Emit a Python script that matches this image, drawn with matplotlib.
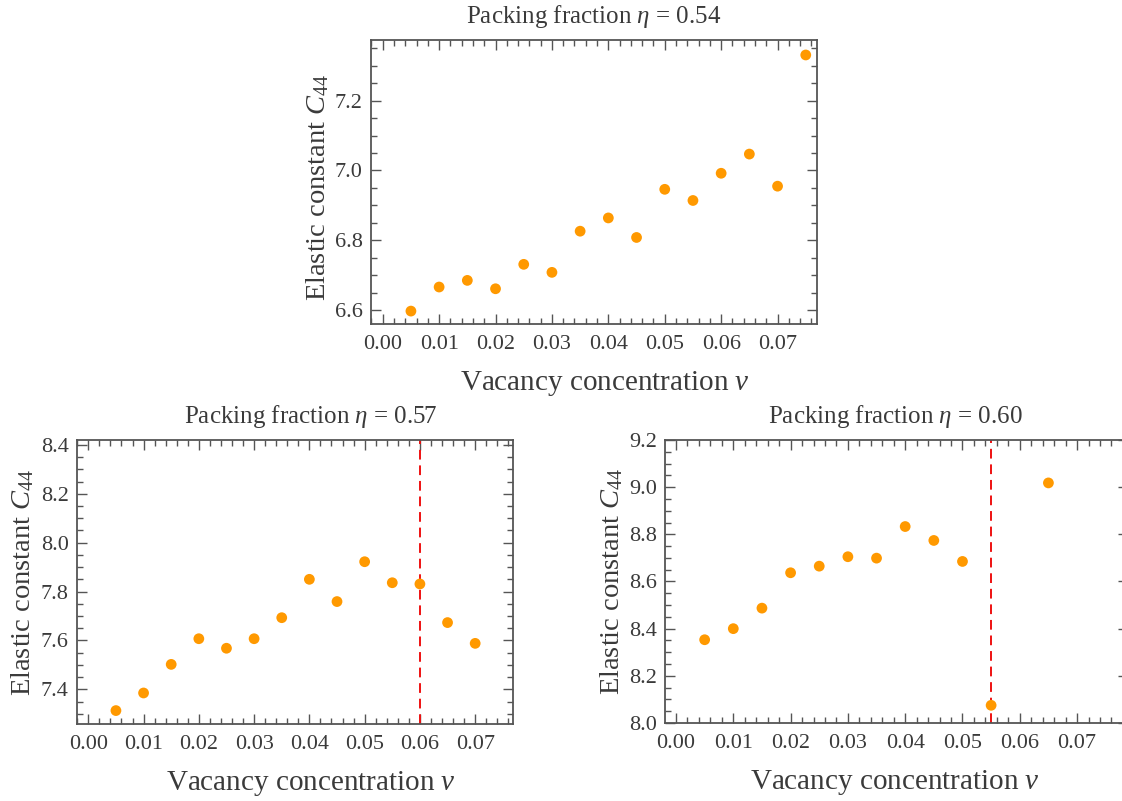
import matplotlib
matplotlib.use("Agg")
import matplotlib.pyplot as plt
from matplotlib.ticker import MultipleLocator, FormatStrFormatter

plt.rcParams['font.family'] = ['Liberation Serif', 'DejaVu Serif']
plt.rcParams['mathtext.fontset'] = 'custom'
plt.rcParams['mathtext.rm'] = 'Liberation Serif'
plt.rcParams['mathtext.it'] = 'Liberation Serif:italic'

# ---- data ----
x1 = [0.005, 0.010, 0.015, 0.020, 0.025, 0.030, 0.035, 0.040, 0.045, 0.050,
      0.055, 0.060, 0.065, 0.070, 0.075]
c44_054 = [6.597, 6.666, 6.685, 6.661, 6.731, 6.708, 6.826, 6.864, 6.808, 6.946,
           6.914, 6.992, 7.047, 6.955, 7.331]

x2 = [0.005, 0.010, 0.015, 0.020, 0.025, 0.030, 0.035, 0.040, 0.045, 0.050,
      0.055, 0.060, 0.065, 0.070]
c44_057 = [7.313, 7.385, 7.502, 7.607, 7.568, 7.607, 7.693, 7.850, 7.759, 7.922,
           7.836, 7.831, 7.673, 7.588]
vline_057 = 0.060

x3 = [0.005, 0.010, 0.015, 0.020, 0.025, 0.030, 0.035, 0.040, 0.045, 0.050,
      0.055, 0.065]
c44_060 = [8.353, 8.400, 8.487, 8.637, 8.665, 8.705, 8.699, 8.833, 8.774, 8.685,
           8.075, 9.018]
vline_060 = 0.055

titles = [r"Packing fraction $\eta$ = 0.54",
          r"Packing fraction $\eta$ = 0.57",
          r"Packing fraction $\eta$ = 0.60"]
xlabel = r"Vacancy concentration $v$"
ylabel = r"Elastic constant $C_{44}$"

TXT = '#3a3a3a'
FRAME = '#555555'
ORANGE = '#FF9900'

fig = plt.figure(figsize=(11.22, 8.01), dpi=100)

# rect, xlim, ylim, title x (axes frac), xlabel x (axes frac), ylabel y (axes frac)
axes_specs = [
    (x1, c44_054, None, [0.3307, 0.5955, 0.3975, 0.3546], (-0.00207, 0.0770), (6.56, 7.374), 0.5, 0.525, 0.48),
    (x2, c44_057, vline_057, [0.0686, 0.0961, 0.3889, 0.3546], (-0.00205, 0.0769), (7.258, 8.42), 0.535, 0.537, 0.5),
    (x3, c44_060, vline_060, [0.5930, 0.0974, 0.4124, 0.3533], (-0.00186, 0.0789), (8.0, 9.2), 0.497, 0.497, 0.5),
]

for i, (xs, ys, vl, rect, xl, yl, tx, lx, ly) in enumerate(axes_specs):
    ax = fig.add_axes(rect)
    ax.scatter(xs, ys, s=60, color=ORANGE, edgecolors='none', zorder=3, clip_on=False)
    if vl is not None:
        ax.axvline(vl, color='#EE1111', lw=1.4, ls=(0, (5, 3)), zorder=2)
    ax.set_xlim(*xl)
    ax.set_ylim(*yl)
    ax.xaxis.set_major_locator(MultipleLocator(0.01))
    ax.xaxis.set_minor_locator(MultipleLocator(0.002))
    ax.xaxis.set_major_formatter(FormatStrFormatter('%.2f'))
    ax.yaxis.set_major_locator(MultipleLocator(0.2))
    ax.yaxis.set_minor_locator(MultipleLocator(0.05))
    ax.yaxis.set_major_formatter(FormatStrFormatter('%.1f'))
    ax.tick_params(which='both', direction='in', top=True, right=True,
                   colors=FRAME, labelcolor=TXT, labelsize=16, width=1.0)
    ax.tick_params(which='major', length=7)
    ax.tick_params(which='minor', length=4)
    ax.tick_params(axis='x', which='major', pad=8)
    ax.tick_params(axis='y', which='major', pad=6)
    for sp in ax.spines.values():
        sp.set_color(FRAME)
        sp.set_linewidth(1.3)
    t = ax.set_title(titles[i], fontsize=18, color=TXT, pad=12)
    t.set_x(tx)
    ax.set_xlabel(xlabel, fontsize=21, color=TXT, labelpad=11)
    ax.xaxis.label.set_x(lx)
    ax.set_ylabel(ylabel, fontsize=20.5, color=TXT, labelpad=3)
    ax.yaxis.label.set_y(ly)

fig.savefig('out.png', dpi=100)
